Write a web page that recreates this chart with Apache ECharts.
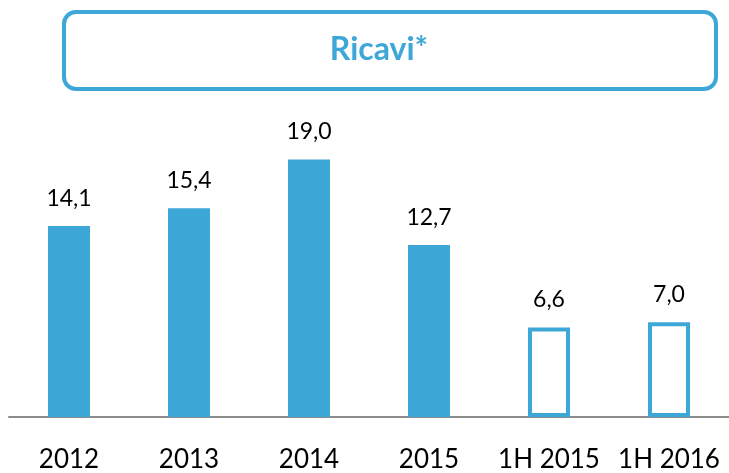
<!DOCTYPE html>
<html>
<head>
<meta charset="utf-8">
<script src="https://cdn.jsdelivr.net/npm/echarts@6/dist/echarts.min.js"></script>
<style>
  html, body { margin: 0; padding: 0; background: #fff; }
  #chart { width: 729px; height: 473px; }
</style>
</head>
<body>
<div id="chart"></div>
<script>
// dati
const categories = ['2012', '2013', '2014', '2015', '1H 2015', '1H 2016']
const ricavi = [14.1, 15.4, 19.0, 12.7, 6.6, 7.0]
const semestrale = [false, false, false, false, true, true]

const blue = '#3DA8D8'
const font = 'Lato, "Open Sans", sans-serif'

const chart = echarts.init(document.getElementById('chart'))

chart.setOption({
    animation: false,
    grid: { left: 9, right: 0, top: 146, bottom: 55, containLabel: false },
    graphic: [
        {
            type: 'rect',
            shape: { x: 64, y: 12, width: 652, height: 77, r: 12 },
            style: { fill: '#fff', stroke: blue, lineWidth: 4 }
        },
        {
            type: 'text',
            x: 379, y: 50,
            style: {
                text: 'Ricavi*',
                fill: blue,
                font: 'bold 32px ' + font,
                textAlign: 'center',
                textVerticalAlign: 'middle'
            }
        }
    ],
    xAxis: {
        type: 'category',
        data: categories,
        axisLine: { lineStyle: { color: '#8c8c8c', width: 2 } },
        axisTick: { show: false },
        axisLabel: { color: '#000', fontSize: 26, fontFamily: font, margin: 30, interval: 0 }
    },
    yAxis: {
        type: 'value',
        min: 0,
        max: 20,
        show: false,
        splitLine: { show: false }
    },
    series: [{
        type: 'bar',
        barWidth: 42,
        data: ricavi.map((v, i) => ({
            value: v,
            itemStyle: semestrale[i]
                ? { color: '#fff', borderColor: blue, borderWidth: 4 }
                : { color: blue }
        })),
        label: {
            show: true,
            position: 'top',
            distance: 16,
            color: '#000',
            fontSize: 23,
            fontFamily: font,
            formatter: p => p.value.toFixed(1).replace('.', ',')
        }
    }]
})
</script>
</body>
</html>
